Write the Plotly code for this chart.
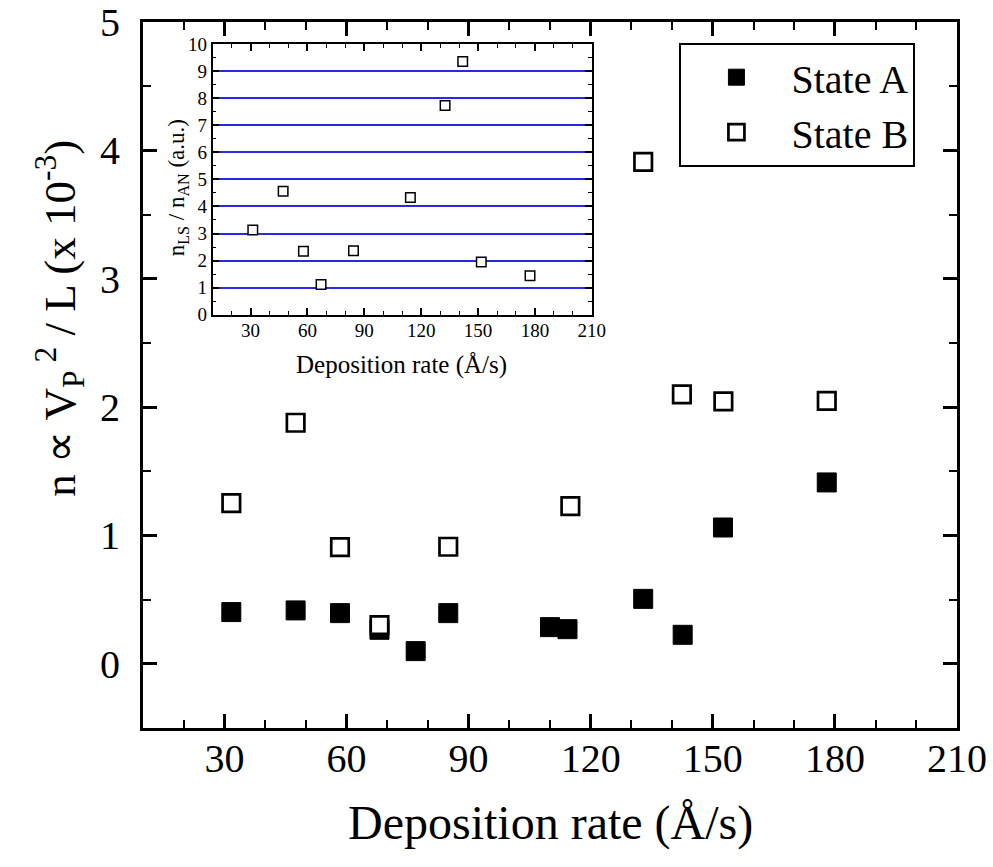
import plotly.graph_objects as go

# Main panel: carrier density estimate vs deposition rate
rate_a = [31.7, 47.5, 58.4, 68.1, 77.0, 85.0, 110.0, 114.3, 132.9, 142.6, 152.5, 178.0]
state_a = [0.403, 0.416, 0.395, 0.265, 0.099, 0.395, 0.286, 0.270, 0.506, 0.226, 1.062, 1.413]

rate_b = [31.7, 47.5, 58.4, 68.1, 85.0, 115.0, 132.9, 142.4, 152.6, 178.0]
state_b = [1.252, 1.878, 0.909, 0.302, 0.912, 1.229, 3.91, 2.099, 2.044, 2.049]

# Inset: ratio n_LS / n_AN
inset_rate = [31.2, 47.2, 57.9, 67.2, 84.3, 114.3, 132.6, 141.9, 151.7, 177.4]
inset_ratio = [3.13, 4.56, 2.34, 1.12, 2.36, 4.33, 7.73, 9.35, 1.95, 1.44]

x_ticks = [30, 60, 90, 120, 150, 180, 210]
main_y_ticks = [0, 1, 2, 3, 4, 5]
inset_y_ticks = list(range(0, 11))

FONT = "Liberation Serif"

fig = go.Figure()

fig.add_trace(go.Scatter(
    x=rate_a, y=state_a, mode="markers", name="State A",
    marker=dict(symbol="square", size=19, color="black",
                line=dict(color="black", width=1)),
    xaxis="x", yaxis="y",
))
fig.add_trace(go.Scatter(
    x=rate_b, y=state_b, mode="markers", name="State B",
    marker=dict(symbol="square", size=17.5, color="white",
                line=dict(color="black", width=2.7)),
    xaxis="x", yaxis="y",
))
fig.add_trace(go.Scatter(
    x=inset_rate, y=inset_ratio, mode="markers", showlegend=False,
    marker=dict(symbol="square", size=9.5, color="white",
                line=dict(color="black", width=1.5)),
    xaxis="x2", yaxis="y2",
))

main_axis = dict(
    showline=True, linecolor="black", linewidth=3, mirror="ticks",
    ticks="inside", ticklen=14, tickwidth=2.5, tickcolor="black",
    showgrid=False, zeroline=False, automargin=False,
    tickfont=dict(family=FONT, size=40, color="black"),
)

fig.update_layout(
    width=993, height=867,
    margin=dict(l=143, r=36, t=22, b=139, autoexpand=False),
    paper_bgcolor="white", plot_bgcolor="white",
    font=dict(family=FONT, color="black"),
    xaxis=dict(
        **main_axis, domain=[0, 1], range=[10, 210],
        tickmode="array", tickvals=x_ticks, ticklabelstandoff=-7,
        minor=dict(dtick=10, tick0=0, ticks="inside", ticklen=8,
                   tickwidth=2, tickcolor="black"),
    ),
    yaxis=dict(
        **main_axis, domain=[0, 1], range=[-0.5, 5],
        tickmode="array", tickvals=main_y_ticks, ticklabelstandoff=12,
        minor=dict(dtick=0.5, tick0=0, ticks="inside", ticklen=8,
                   tickwidth=2, tickcolor="black"),
    ),
    xaxis2=dict(
        domain=[0.0855, 0.5514], anchor="y2", range=[10, 210],
        showline=True, linecolor="black", linewidth=1.5, mirror="ticks",
        ticks="inside", ticklen=7, tickwidth=1.5, tickcolor="black",
        showgrid=False, zeroline=False, automargin=False,
        tickmode="array", tickvals=x_ticks, ticklabelstandoff=-2,
        tickfont=dict(family=FONT, size=19, color="black"),
        minor=dict(dtick=10, tick0=0, ticks="inside", ticklen=4,
                   tickwidth=1.2, tickcolor="black"),
    ),
    yaxis2=dict(
        domain=[0.5854, 0.9688], anchor="x2", range=[0, 10],
        showline=True, linecolor="black", linewidth=1.5, mirror="ticks",
        ticks="inside", ticklen=7, tickwidth=1.5, tickcolor="black",
        showgrid=True, gridcolor="rgb(40,40,230)", gridwidth=1.5,
        zeroline=False, automargin=False,
        tickmode="array", tickvals=inset_y_ticks, ticklabelstandoff=0,
        tickfont=dict(family=FONT, size=19, color="black"),
        minor=dict(dtick=0.5, tick0=0, ticks="inside", ticklen=4,
                   tickwidth=1.2, tickcolor="black"),
    ),
    legend=dict(
        x=0.659, y=0.9707, xanchor="left", yanchor="top",
        bgcolor="white", bordercolor="black", borderwidth=2,
        font=dict(family=FONT, size=40, color="black"),
        itemwidth=100,
    ),
    showlegend=True,
)

annotations = [
    dict(text="Deposition rate (Å/s)", xref="paper", yref="paper",
         x=0.5, y=-0.134, xanchor="center", yanchor="middle",
         showarrow=False, font=dict(family=FONT, size=48, color="black")),
    dict(text="n ∝ V<sub>P</sub><sup> 2</sup> / L (x 10<sup>-3</sup>)",
         xref="paper", yref="paper", x=-0.103, y=0.580,
         xanchor="center", yanchor="middle", textangle=-90,
         showarrow=False, font=dict(family=FONT, size=45, color="black")),
    dict(text="Deposition rate (Å/s)", xref="paper", yref="paper",
         x=0.318, y=0.514, xanchor="center", yanchor="middle",
         showarrow=False, font=dict(family=FONT, size=25, color="black")),
    dict(text="n<sub>LS</sub> / n<sub>AN</sub> (a.u.)",
         xref="paper", yref="paper", x=0.0434, y=0.765,
         xanchor="center", yanchor="middle", textangle=-90,
         showarrow=False, font=dict(family=FONT, size=23, color="black")),
]
fig.update_layout(annotations=annotations)

fig.write_html("out.html")
